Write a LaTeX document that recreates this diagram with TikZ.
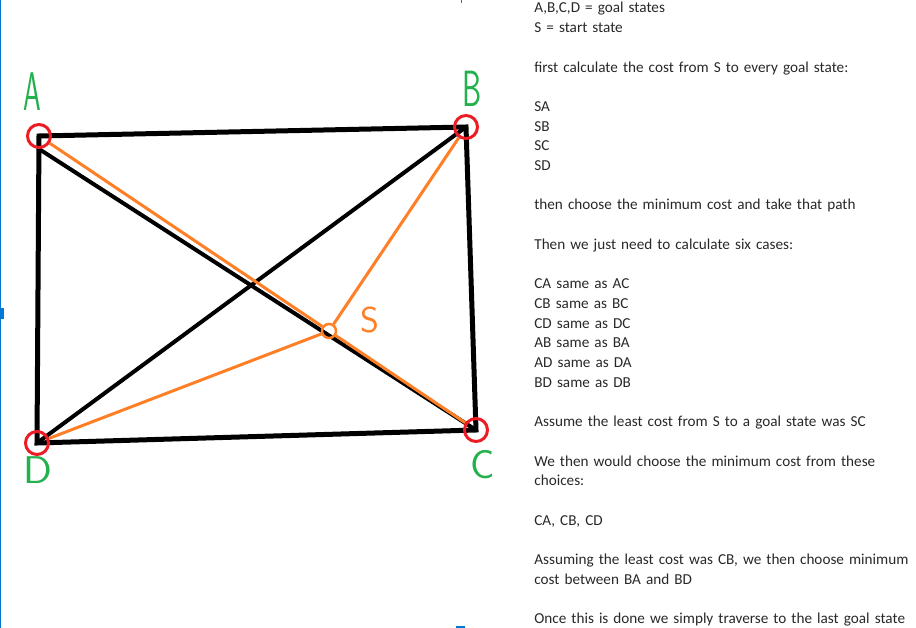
\documentclass[tikz,border=0pt]{standalone}
\usepackage{fontspec}
\setmainfont{Carlito}[WordSpace=0.75]
\usetikzlibrary{backgrounds}

\definecolor{goalgreen}{RGB}{34,177,76}
\definecolor{ringred}{RGB}{237,28,36}
\definecolor{startorange}{RGB}{255,127,39}
\definecolor{frameblue}{RGB}{0,120,215}
\definecolor{notegray}{RGB}{40,40,40}

\begin{document}
\begin{tikzpicture}[x=0.02cm, y=-0.02cm, node distance=0.394cm,
  goal/.style={circle, draw=ringred, line width=0.06cm, minimum size=0.46cm, inner sep=0},
  startring/.style={circle, draw=startorange, line width=0.05cm, minimum size=0.28cm, inner sep=0},
  letter/.style={inner sep=0, text=goalgreen, font=\sffamily\fontsize{#1}{#1}\selectfont},
  rim/.style={line width=0.1cm},
  diag/.style={line width=0.08cm},
  route/.style={draw=startorange, line width=0.06cm},
  notetext/.style={text width=8cm, align=left, inner sep=0, text height=6pt, text depth=2pt,
    text=notegray, font=\fontsize{8.65}{10}\selectfont},
  gap/.style={node distance=0.788cm}]
\useasboundingbox (0,0) rectangle (916,628);

% screen marks
\fill[frameblue] (0,0) rectangle (1.5,628);
\fill[frameblue] (0,308) rectangle (4,319);
\fill[frameblue] (460.5,0) rectangle (461.5,3);
\fill[frameblue] (456,626) rectangle (465,628);

% goal states and start
\node (A) [goal] at (39,136) {};
\node (B) [goal] at (466,127) {};
\node (C) [goal] at (476,430) {};
\node (D) [goal] at (37,443) {};
\node (S) [startring] at (329,331) {};

\node (Aname) [letter=31, xscale=0.52, transform shape] at (32,92) {A};
\node (Bname) [letter=29, xscale=0.6, transform shape] at (472,89) {B};
\node (Cname) [letter=23] at (483,465) {C};
\node (Dname) [letter=22, xscale=1.1, transform shape] at (38,470) {D};
\node (Sname) [letter=20.5, text=startorange] at (370,320) {S};

\begin{scope}[on background layer]
\draw[rim] (A.center) -- (B.center) -- (C.center) -- (D.center) -- cycle;
\draw[diag] (A.south) -- (C.center);
\draw[diag] (D.center) -- (B.center);
\draw[route] (S) -- (A);
\draw[route] (S) -- (B);
\draw[route] (S) -- (C);
\draw[route] (S) -- (D);
\end{scope}

% notes
\node (goals) [notetext, anchor=base west] at (534,13) {A,B,C,D = goal states};
\node (start) [notetext, below of=goals] {S = start state};
\node (first) [notetext, gap, below of=start] {first calculate the cost from S to every goal state:};
\node (sa) [notetext, gap, below of=first] {SA};
\node (sb) [notetext, below of=sa] {SB};
\node (sc) [notetext, below of=sb] {SC};
\node (sd) [notetext, below of=sc] {SD};
\node (choose) [notetext, gap, below of=sd] {then choose the minimum cost and take that path};
\node (six) [notetext, gap, below of=choose] {Then we just need to calculate six cases:};
\node (ca) [notetext, gap, below of=six] {CA same as AC};
\node (cb) [notetext, below of=ca] {CB same as BC};
\node (cd) [notetext, below of=cb] {CD same as DC};
\node (ab) [notetext, below of=cd] {AB same as BA};
\node (ad) [notetext, below of=ab] {AD same as DA};
\node (bd) [notetext, below of=ad] {BD same as DB};
\node (assume) [notetext, gap, below of=bd] {Assume the least cost from S to a goal state was SC};
\node (wethen) [notetext, gap, below of=assume] {We then would choose the minimum cost from these};
\node (choices) [notetext, below of=wethen] {choices:};
\node (options) [notetext, gap, below of=choices] {CA, CB, CD};
\node (assuming) [notetext, gap, below of=options] {Assuming the least cost was CB, we then choose minimum};
\node (between) [notetext, below of=assuming] {cost between BA and BD};
\node (once) [notetext, gap, below of=between] {Once this is done we simply traverse to the last goal state};
\end{tikzpicture}
\end{document}
